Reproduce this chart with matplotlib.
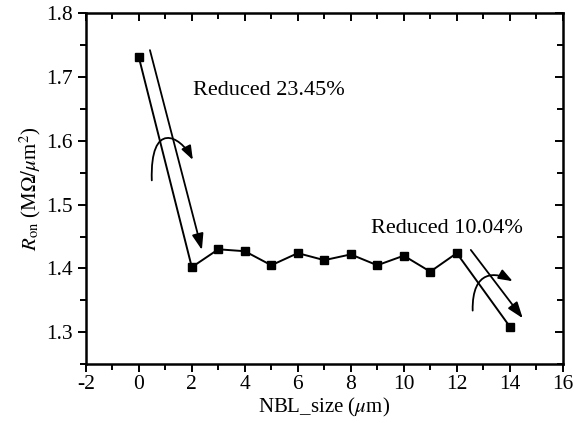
import matplotlib
matplotlib.use('Agg')
import matplotlib.pyplot as plt
from matplotlib.patches import FancyArrowPatch
from matplotlib.path import Path

plt.rcParams['font.family'] = ['Liberation Serif', 'DejaVu Serif']
plt.rcParams['mathtext.fontset'] = 'stix'
plt.rcParams['axes.unicode_minus'] = False

# NBL size (um) vs on-resistance
nbl_size = [0, 2, 3, 4, 5, 6, 7, 8, 9, 10, 11, 12, 14]
r_on = [1.731, 1.402, 1.430, 1.427, 1.405, 1.424, 1.413, 1.422, 1.405, 1.420, 1.395, 1.424, 1.309]

fig = plt.figure(figsize=(5.76, 4.23), dpi=100)
ax = fig.add_axes([0.149, 0.139, 0.828, 0.830])

ax.plot(nbl_size, r_on, color='black', lw=1.4, marker='s', ms=5.5)

ax.set_xlim(-2, 16)
ax.set_ylim(1.25, 1.8)
ax.set_xticks(range(-2, 17, 2))
ax.set_xticks(range(-2, 17, 1), minor=True)
ax.set_yticks([1.3, 1.4, 1.5, 1.6, 1.7, 1.8])
ax.set_yticks([1.25 + 0.05 * i for i in range(12)], minor=True)
ax.tick_params(axis='both', which='both', labelsize=15.5, width=1.4, top=True, right=True)
ax.tick_params(axis='both', which='major', length=6)
ax.tick_params(axis='both', which='minor', length=4.5)
ax.tick_params(axis='both', which='both', direction='out')
ax.tick_params(axis='x', pad=2)
# top and right ticks point inward
for t in ax.xaxis.get_major_ticks() + ax.xaxis.get_minor_ticks():
    t.tick2line.set_marker(3)
for t in ax.yaxis.get_major_ticks() + ax.yaxis.get_minor_ticks():
    t.tick2line.set_marker(0)
for s in ax.spines.values():
    s.set_linewidth(1.8)

ax.set_xlabel(r'NBL_size ($\mu$m)', fontsize=15, labelpad=1)
ax.set_ylabel(r'$R_{\rm on}$ (M$\Omega/\mu$m$^2$)', fontsize=15, labelpad=2)

# annotations
ax.text(2.05, 1.678, 'Reduced 23.45%', fontsize=16, va='center', ha='left')
ax.text(8.75, 1.463, 'Reduced 10.04%', fontsize=16, va='center', ha='left')

def straight(x0, y0, x1, y1):
    ax.add_patch(FancyArrowPatch((x0, y0), (x1, y1),
                                 arrowstyle='-|>,head_length=0.7,head_width=0.25',
                                 mutation_scale=14, color='black', lw=1.3,
                                 shrinkA=0, shrinkB=0))

def curved(pts):
    path = Path(pts, [Path.MOVETO, Path.CURVE4, Path.CURVE4, Path.CURVE4])
    ax.add_patch(FancyArrowPatch(path=path, arrowstyle='-|>,head_length=0.6,head_width=0.22',
                                 mutation_scale=14, color='black', lw=1.3,
                                 transform=ax.transData))

straight(0.42, 1.742, 2.38, 1.429)
curved([(0.49, 1.538), (0.42, 1.632), (1.55, 1.609), (2.04, 1.570)])

straight(12.53, 1.429, 14.49, 1.322)
curved([(12.60, 1.334), (12.57, 1.400), (13.51, 1.394), (14.11, 1.380)])

fig.savefig('out.png', dpi=100)
